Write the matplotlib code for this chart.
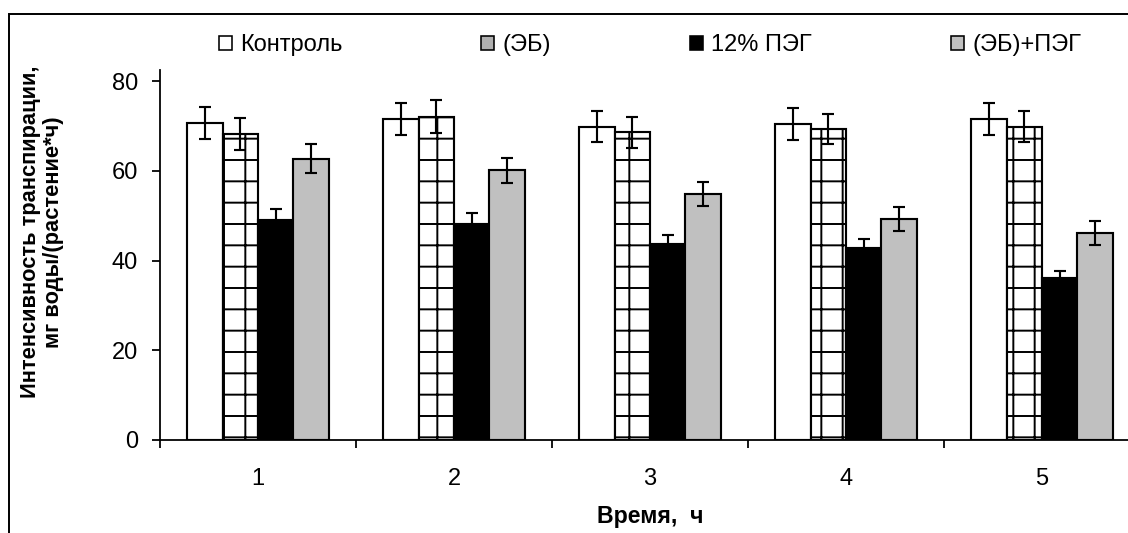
import matplotlib
matplotlib.use("Agg")
import matplotlib.pyplot as plt
from matplotlib.patches import Patch, Rectangle
import numpy as np

plt.rcParams['font.family'] = ['Liberation Sans', 'DejaVu Sans']
plt.rcParams['hatch.linewidth'] = 1.1

categories = ['1', '2', '3', '4', '5']
series_names = ['Контроль', '(ЭБ)', '12% ПЭГ', '(ЭБ)+ПЭГ']
control = [70.7, 71.6, 69.9, 70.4, 71.6]
eb = [68.2, 72.1, 68.6, 69.4, 69.9]
peg = [49.0, 48.2, 43.6, 42.8, 36.1]
eb_peg = [62.7, 60.1, 54.8, 49.3, 46.2]
err_control = [3.5, 3.5, 3.5, 3.6, 3.5]
err_eb = [3.5, 3.6, 3.4, 3.3, 3.5]
err_peg = [2.6, 2.5, 2.2, 2.1, 1.6]
err_eb_peg = [3.2, 2.8, 2.7, 2.6, 2.7]
y_ticks = [0, 20, 40, 60, 80]

DPI = 128
W, H = 1128, 533
fig = plt.figure(figsize=(W / DPI, H / DPI), dpi=DPI)
ax = fig.add_axes([160 / W, (H - 440) / H, 980 / W, 370 / H])

values = [control, eb, peg, eb_peg]
errors = [err_control, err_eb, err_peg, err_eb_peg]
faces = ['white', 'white', 'black', '#c0c0c0']
hatches = [None, '+', None, None]
bw = 0.181
x = np.arange(len(categories))
lw = 1.2
for i, (vals, errs) in enumerate(zip(values, errors)):
    pos = x + (i - 1.5) * bw
    ax.bar(pos, vals, width=bw, facecolor=faces[i], edgecolor='black',
           linewidth=lw, hatch=hatches[i], zorder=2)
    ax.errorbar(pos, vals, yerr=errs, fmt='none', ecolor='black',
                elinewidth=lw, capsize=3.6, capthick=lw, zorder=3)

ax.set_xlim(-0.5, 4.5)
ax.set_ylim(0, 82.5)
ax.set_yticks(y_ticks)
ax.set_xticks(np.arange(-0.5, 5.0, 1.0))
ax.set_xticklabels([])
ax.set_xticks(x, minor=True)
ax.set_xticklabels(categories, minor=True)
ax.tick_params(axis='x', which='major', direction='out', length=4.5, width=1.0)
ax.tick_params(axis='x', which='minor', length=0, pad=16, labelsize=13.3)
ax.tick_params(axis='y', direction='out', length=4.5, width=1.0, pad=8, labelsize=13.3)
for s in ['top', 'right']:
    ax.spines[s].set_visible(False)
for s in ['left', 'bottom']:
    ax.spines[s].set_linewidth(1.0)

ax.set_xlabel('Время,  ч', fontsize=13, fontweight='bold')
ax.xaxis.set_label_coords(0.5, -(517 - 440) / 370, transform=ax.transAxes)
ax.xaxis.label.set_va('center')

fig.text(42 / W, 1 - 232 / H, 'Интенсивность транспирации,\nмг воды/(растение*ч)',
         rotation=90, ha='center', va='center', fontsize=12.3, fontweight='bold',
         linespacing=1.15)

handles = [Patch(facecolor='white', edgecolor='black', linewidth=0.9),
           Patch(facecolor='#b0b0b0', edgecolor='black', linewidth=0.9),
           Patch(facecolor='black', edgecolor='black', linewidth=0.9),
           Patch(facecolor='#c0c0c0', edgecolor='black', linewidth=0.9)]
fig.legend(handles, series_names, loc='center', bbox_to_anchor=(650 / W, 1 - 45 / H),
           ncol=4, frameon=False, fontsize=13.3, columnspacing=5.85,
           handlelength=0.55, handleheight=0.55, handletextpad=0.37)

fig.patches.append(Rectangle((9 / W, -0.2), 2.0, 1.2 - 14 / H, transform=fig.transFigure,
                             fill=False, edgecolor='black', linewidth=1.1))

fig.savefig('out.png', dpi=DPI)
